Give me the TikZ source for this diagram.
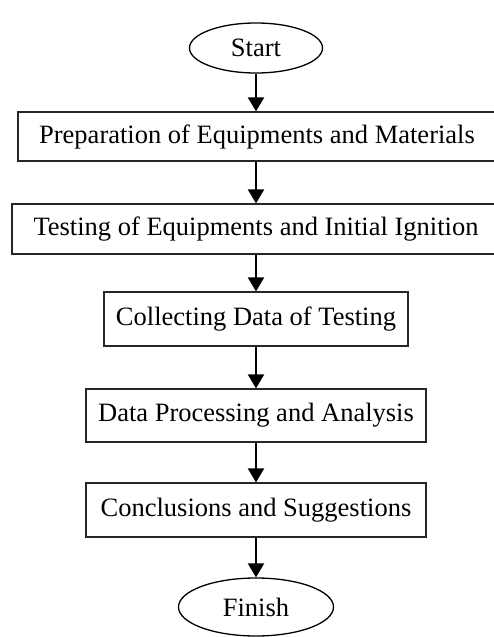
\documentclass[tikz,border=0pt]{standalone}
\usepackage{fontspec}
\setmainfont{Liberation Serif}
\usetikzlibrary{shapes.geometric,arrows.meta}
\tikzset{
  stepbox/.style={draw=black!85, line width=1.2pt, rectangle, inner sep=0pt, minimum height=#1, font=\fontsize{26.5}{30}\selectfont},
  term/.style={draw=black, line width=1.3pt, ellipse, inner sep=0pt, font=\fontsize{26.5}{30}\selectfont},
  arr/.style={line width=2pt, -{Triangle[length=14pt,width=16pt]}}
}
\begin{document}
\begin{tikzpicture}[x=1pt,y=-1pt]
\useasboundingbox (0,0) rectangle (493,637);
\node[term, minimum width=133pt, minimum height=50pt] (start) at (256,48) {Start};
\node[stepbox=49pt, minimum width=478pt] (b1) at (257,136.5) {Preparation of Equipments and Materials};
\node[stepbox=50pt, minimum width=488pt] (b2) at (256,229) {Testing of Equipments and Initial Ignition};
\node[stepbox=54pt, minimum width=304pt] (b3) at (256,319) {Collecting Data of Testing};
\node[stepbox=53pt, minimum width=340pt] (b4) at (256,415.5) {Data Processing and Analysis};
\node[stepbox=54pt, minimum width=340pt] (b5) at (256,510) {Conclusions and Suggestions};
\node[term, minimum width=155pt, minimum height=58pt] (finish) at (256,607) {Finish};
\draw[arr] (start.south) -- (start.south |- b1.north);
\draw[arr] (start.south |- b1.south) -- (b2.north);
\draw[arr] (b2) -- (b3);
\draw[arr] (b3) -- (b4);
\draw[arr] (b4) -- (b5);
\draw[arr] (b5) -- (finish);
\end{tikzpicture}
\end{document}
